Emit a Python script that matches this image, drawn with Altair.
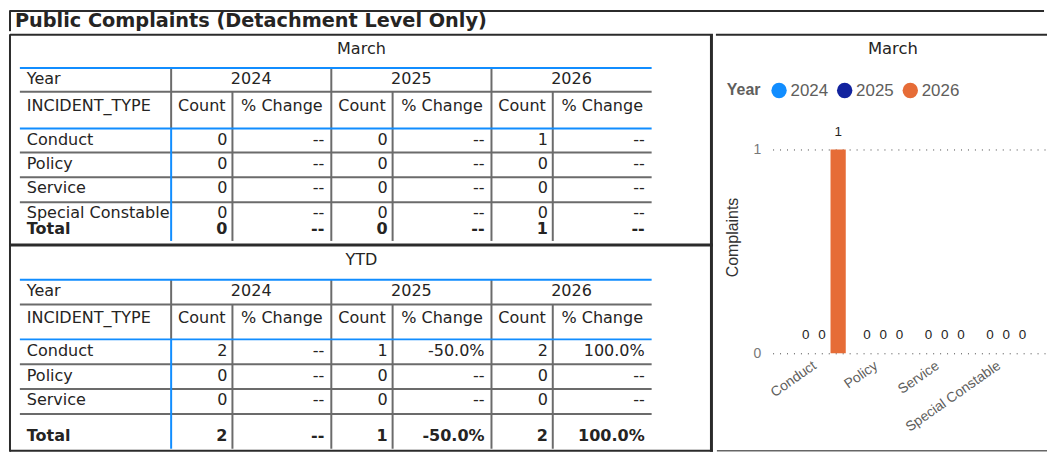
import altair as alt
import pandas as pd

# ------------------------------------------------------------------ data
title_text = "Public Complaints (Detachment Level Only)"
period_titles = ["March", "YTD"]
year_header = "Year"
row_header = "INCIDENT_TYPE"
total_label = "Total"
sub_headers = ["Count", "% Change"]
years = ["2024", "2025", "2026"]

march_types = ["Conduct", "Policy", "Service", "Special Constable"]
march_count_2024 = [0, 0, 0, 0]
march_count_2025 = [0, 0, 0, 0]
march_count_2026 = [1, 0, 0, 0]
march_pct_2024 = ["--", "--", "--", "--"]
march_pct_2025 = ["--", "--", "--", "--"]
march_pct_2026 = ["--", "--", "--", "--"]
march_totals = [0, 0, 1]
march_total_pct = ["--", "--", "--"]

ytd_types = ["Conduct", "Policy", "Service"]
ytd_count_2024 = [2, 0, 0]
ytd_count_2025 = [1, 0, 0]
ytd_count_2026 = [2, 0, 0]
ytd_pct_2024 = ["--", "--", "--"]
ytd_pct_2025 = ["-50.0%", "--", "--"]
ytd_pct_2026 = ["100.0%", "--", "--"]
ytd_totals = [2, 1, 2]
ytd_total_pct = ["--", "-50.0%", "100.0%"]

chart_title = "March"
legend_title = "Year"
y_title = "Complaints"
year_colors = ["#118DFF", "#12239E", "#E66C37"]

# ------------------------------------------------------------------ styles / layout
SANS = "Liberation Sans"
TAB = "DejaVu Sans"
INK = "#252423"
GRAY = "#6b6b6b"
BLUE = "#118DFF"
FRAME = "#2b2b2b"
TFS = 16.1        # table font size

TH = 21                         # title strip height (reference 2..32 squeezed)
WL = 707                        # tables panel width (reference 5..716)
ORIGIN_Y = 148                  # reference y of the bar plot top (shared row origin)
PLOT_LEFT_REF = 773
RW = 276
RH = 353 - 148
STRIP_END = 1045                # reference x where the title strip is cut

# table geometry (reference pixel units)
COL_X = [15, 168, 230, 330, 392, 492, 554, 654]
TABLES = [
    dict(title_y=47, top=66, year_y=77, mid=90, hdr_y=104, body=127,
         rows=[138, 163, 187, 212], row_lines=[151, 176, 201], total_y=228, bottom=240),
    dict(title_y=259, top=279, year_y=290, mid=304, hdr_y=318, body=339,
         rows=[351, 376, 400], row_lines=[364, 389, 414], total_y=436, bottom=449),
]

march_counts = {"2024": march_count_2024, "2025": march_count_2025, "2026": march_count_2026}
march_pcts = {"2024": march_pct_2024, "2025": march_pct_2025, "2026": march_pct_2026}
ytd_counts = {"2024": ytd_count_2024, "2025": ytd_count_2025, "2026": ytd_count_2026}
ytd_pcts = {"2024": ytd_pct_2024, "2025": ytd_pct_2025, "2026": ytd_pct_2026}

table_data = [
    (period_titles[0], march_types, march_counts, march_pcts, march_totals, march_total_pct),
    (period_titles[1], ytd_types, ytd_counts, ytd_pcts, ytd_totals, ytd_total_pct),
]


def line(rows, x, y, x2, y2, c, w):
    rows.append(dict(x=x, y=y, x2=x2, y2=y2, c=c, w=w))


def txt(rows, x, y, s, align="left", weight="normal", size=TFS, font=TAB):
    rows.append(dict(x=x, y=y, text=str(s), align=align, weight=weight, size=size, font=font))


def pixel_layer(lines, texts, xdom, xrange, ydom, yrange, w, h):
    xs = alt.Scale(domain=xdom, range=xrange, nice=False, zero=False)
    ys = alt.Scale(domain=ydom, range=yrange, nice=False, zero=False)
    layers = [
        alt.Chart(pd.DataFrame(lines)).mark_rule(strokeCap="butt").encode(
            x=alt.X("x:Q", scale=xs, axis=None), x2="x2:Q",
            y=alt.Y("y:Q", scale=ys, axis=None), y2="y2:Q",
            color=alt.Color("c:N", scale=None, legend=None),
            strokeWidth=alt.StrokeWidth("w:Q", scale=None, legend=None),
        )
    ]
    tdf = pd.DataFrame(texts)
    for (align, weight, size, font), sub in tdf.groupby(["align", "weight", "size", "font"]):
        layers.append(
            alt.Chart(sub.reset_index(drop=True)).mark_text(
                align=align, baseline="middle", font=font, fontSize=float(size),
                fontWeight=weight, color=INK,
            ).encode(
                x=alt.X("x:Q", scale=xs, axis=None),
                y=alt.Y("y:Q", scale=ys, axis=None),
                text="text:N",
            )
        )
    return alt.layer(*layers).properties(width=w, height=h)


# ---------------- title strip
t_lines, t_texts = [], []
line(t_lines, 5, 3, STRIP_END, 3, FRAME, 2)
line(t_lines, 5, 2, 5, 32, FRAME, 2)
txt(t_texts, 10, 17.5, title_text, weight="bold", size=19.4)
title_panel = pixel_layer(t_lines, t_texts, [5, STRIP_END], [0, STRIP_END - 5],
                          [2, 32], [0, TH], STRIP_END - 5, TH)

# ---------------- tables panel
l_lines, l_texts = [], []
panel_cx = (5 + 716) / 2
for t, (period, types, counts, pcts, totals, tpcts) in zip(TABLES, table_data):
    line(l_lines, COL_X[0], t["mid"], COL_X[-1], t["mid"], GRAY, 2)
    for ry_ in t["row_lines"]:
        line(l_lines, COL_X[0], ry_, COL_X[-1], ry_, GRAY, 2)
    line(l_lines, COL_X[1], t["top"], COL_X[1], t["body"], GRAY, 2)
    for i in range(3):
        line(l_lines, COL_X[2 + 2 * i], t["mid"], COL_X[2 + 2 * i], t["bottom"], GRAY, 2)
        if i < 2:
            line(l_lines, COL_X[3 + 2 * i], t["top"], COL_X[3 + 2 * i], t["bottom"], GRAY, 2)
    line(l_lines, COL_X[1], t["body"], COL_X[1], t["bottom"], BLUE, 2)
    line(l_lines, COL_X[0], t["top"], COL_X[-1], t["top"], BLUE, 2)
    line(l_lines, COL_X[0], t["body"], COL_X[-1], t["body"], BLUE, 2)
    txt(l_texts, panel_cx, t["title_y"], period, align="center")
    txt(l_texts, 22, t["year_y"], year_header)
    txt(l_texts, 22, t["hdr_y"], row_header)
    for r, lab in enumerate(types):
        txt(l_texts, 22, t["rows"][r], lab)
    txt(l_texts, 22, t["total_y"], total_label, weight="bold")
    for i, yr in enumerate(years):
        c0, c1, c2 = COL_X[1 + 2 * i], COL_X[2 + 2 * i], COL_X[3 + 2 * i]
        txt(l_texts, (c0 + c2) / 2, t["year_y"], yr, align="center")
        txt(l_texts, (c0 + c1) / 2, t["hdr_y"], sub_headers[0], align="center")
        txt(l_texts, (c1 + c2) / 2, t["hdr_y"], sub_headers[1], align="center")
        for r in range(len(types)):
            txt(l_texts, c1 - 5, t["rows"][r], counts[yr][r], align="right")
            txt(l_texts, c2 - 7, t["rows"][r], pcts[yr][r], align="right")
        txt(l_texts, c1 - 5, t["total_y"], totals[i], align="right", weight="bold")
        txt(l_texts, c2 - 7, t["total_y"], tpcts[i], align="right", weight="bold")

# panel frame
line(l_lines, 5, 32.5, 716, 32.5, FRAME, 2)
line(l_lines, 5, 32, 5, 452, FRAME, 2)
line(l_lines, 714.5, 32, 714.5, 452, FRAME, 3)
line(l_lines, 5, 244, 716, 244, FRAME, 3)
line(l_lines, 5, 451, 716, 451, FRAME, 2)
tables_panel = pixel_layer(
    l_lines, l_texts, [5, 716], [0, WL],
    [ORIGIN_Y, 452], [0, 452 - ORIGIN_Y], WL, 452 - ORIGIN_Y,
)


# ---------------- bar chart panel
def rx(x):
    return x - PLOT_LEFT_REF


def ry(y):
    return y - ORIGIN_Y


bar_rows = []
for yr in years:
    for ci, cat in enumerate(march_types):
        bar_rows.append({"Category": cat, "Year": yr, "Count": march_counts[yr][ci]})
bar_df = pd.DataFrame(bar_rows)

x_enc = alt.X(
    "Category:N", sort=march_types,
    scale=alt.Scale(domain=march_types, paddingInner=0.223, paddingOuter=0.345, align=0.6),
    axis=alt.Axis(title=None, labelAngle=-35, labelFont=SANS, labelFontSize=14,
                  labelColor="#605E5C", labelPadding=5, labelOffset=-11,
                  domain=False, ticks=False, grid=False),
)
xoff_enc = alt.XOffset("Year:N", sort=years,
                       scale=alt.Scale(domain=years, paddingInner=0.0625, paddingOuter=0))
y_enc = alt.Y(
    "Count:Q", scale=alt.Scale(domain=[0, 1], nice=False),
    axis=alt.Axis(values=[0, 1], format="d", title=y_title, titleFont=SANS, titleFontSize=16,
                  titleFontWeight="normal", titleColor="#333333", titleX=rx(733), titleY=ry(236),
                  titleAngle=-90, titleAlign="center", titleBaseline="middle",
                  labelFont=SANS, labelFontSize=14, labelColor="#777777", labelPadding=12,
                  domain=False, ticks=False, grid=True, gridDash=[1, 6], gridColor="#444444",
                  gridWidth=1),
)

bars = alt.Chart(bar_df).mark_bar(opacity=1).encode(
    x=x_enc, xOffset=xoff_enc, y=y_enc,
    color=alt.Color(
        "Year:N", sort=years, scale=alt.Scale(domain=years, range=year_colors),
        legend=alt.Legend(
            orient="none", legendX=rx(727), legendY=ry(80), direction="horizontal",
            title=legend_title, titleOrient="left", titleFont=SANS, titleFontSize=16,
            titleFontWeight="bold", titleColor="#605E5C", titlePadding=10,
            labelFont=SANS, labelFontSize=17, labelColor="#605E5C", labelOffset=3,
            columnPadding=8, symbolType="circle", symbolSize=240, symbolStrokeWidth=0,
            symbolOpacity=1,
        ),
    ),
)
bar_labels = alt.Chart(bar_df).mark_text(
    dy=-18, font=SANS, fontSize=13.5, color=INK, baseline="middle"
).encode(x=x_enc, xOffset=xoff_enc, y=y_enc, text=alt.Text("Count:Q", format="d"))

r_title = alt.Chart(pd.DataFrame({"t": [chart_title]})).mark_text(
    font=TAB, fontSize=16.5, color=INK, align="center", baseline="middle"
).encode(x=alt.value(rx(894)), y=alt.value(ry(47)), text="t:N")

EDGE = -(PLOT_LEFT_REF - 716) + 1
r_top = alt.Chart(pd.DataFrame({"k": [0]})).mark_rule(color=FRAME, strokeWidth=2).encode(
    x=alt.value(EDGE - 1), x2=alt.value(RW), y=alt.value(ry(32.5)))
r_bottom = alt.Chart(pd.DataFrame({"k": [0]})).mark_rule(color="#666666", strokeWidth=1.5).encode(
    x=alt.value(EDGE), x2=alt.value(RW), y=alt.value(ry(451)))

bar_panel = alt.layer(r_top, r_bottom, r_title, bars, bar_labels).properties(width=RW, height=RH)

row = alt.hconcat(tables_panel, bar_panel, spacing=0).resolve_scale(
    color="independent", x="independent", y="independent", strokeWidth="independent"
).resolve_legend(color="independent")

chart = alt.vconcat(title_panel, row, spacing=0).resolve_scale(
    color="independent", x="independent", y="independent", strokeWidth="independent"
).resolve_legend(color="independent").properties(padding=0).configure_view(stroke=None)

chart.save("out.html", embed_options={"renderer": "svg", "actions": False})
